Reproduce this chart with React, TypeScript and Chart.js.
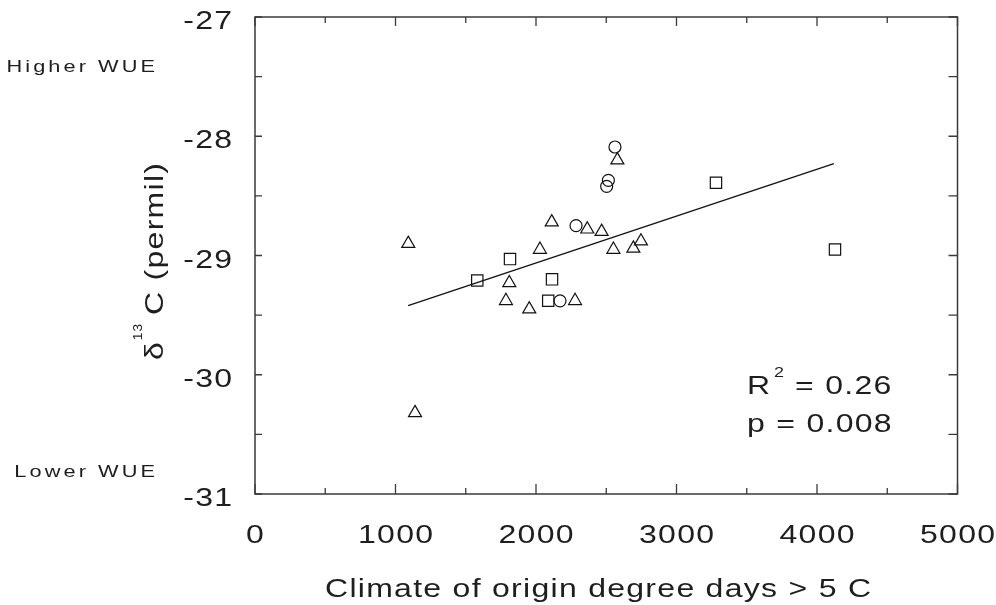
import React, { useEffect, useRef } from "react";
import { Chart, registerables } from "chart.js";

Chart.register(...registerables);

// ---- data ----
const triX = [1091, 2579, 2112, 2365, 2467, 2747, 2693, 2551, 2028, 1810, 1786, 2278, 1952, 1139];
const triY = [-28.9, -28.2, -28.72, -28.78, -28.8, -28.88, -28.94, -28.95, -28.95, -29.23, -29.38, -29.38, -29.45, -30.32];

const circX = [2562, 2515, 2503, 2285, 2171];
const circY = [-28.09, -28.37, -28.42, -28.75, -29.38];

const sqX = [3281, 1815, 1582, 2114, 2087, 4128];
const sqY = [-28.39, -29.03, -29.21, -29.2, -29.38, -28.95];

const fitX = [1090, 4120];
const fitY = [-29.42, -28.23];

const xTickValues = [0, 1000, 2000, 3000, 4000, 5000];
const xTickLabels = ["0", "1000", "2000", "3000", "4000", "5000"];
const xMinorValues = [500, 1500, 2500, 3500, 4500];
const yTickValues = [-27, -28, -29, -30, -31];
const yTickLabels = ["-27", "-28", "-29", "-30", "-31"];
const yMinorValues = [-27.5, -28.5, -29.5, -30.5];

const xTitle = "Climate of origin degree days > 5 C";
const yTitleDelta = "δ";
const yTitleSup = "13";
const yTitleRest = "C (permil)";
const highLabel = "Higher WUE";
const lowLabel = "Lower WUE";
const r2Label = "R";
const r2Sup = "2";
const r2Value = "= 0.26";
const pLabel = "p = 0.008";

const FONT = '"Liberation Sans", Arial, Helvetica, sans-serif';
const SX = 1.28;
const TEXT = "#1e1e1e";
const AXIS = "#3a3a3a";

function measure(ctx: CanvasRenderingContext2D, text: string, size: number, ls: number, sx: number) {
  ctx.save();
  ctx.font = `${size}px ${FONT}`;
  (ctx as any).letterSpacing = `${ls}px`;
  const w = ctx.measureText(text).width;
  ctx.restore();
  return (w - ls) * sx;
}

function drawText(
  ctx: CanvasRenderingContext2D,
  text: string,
  x: number,
  y: number,
  size: number,
  align: "left" | "center" | "right",
  ls = 1,
  sx = SX
) {
  const w = measure(ctx, text, size, ls, sx);
  const x0 = align === "left" ? x : align === "center" ? x - w / 2 : x - w;
  ctx.save();
  ctx.font = `${size}px ${FONT}`;
  (ctx as any).letterSpacing = `${ls}px`;
  ctx.fillStyle = TEXT;
  ctx.textAlign = "left";
  ctx.textBaseline = "alphabetic";
  ctx.translate(x0, y);
  ctx.scale(sx, 1);
  ctx.fillText(text, 0, 0);
  ctx.restore();
  return w;
}

const framePlugin = {
  id: "framePlugin",
  afterDraw(chart: any) {
    const ctx: CanvasRenderingContext2D = chart.ctx;
    const { left, right, top, bottom } = chart.chartArea;
    const xs = chart.scales.x;
    const ys = chart.scales.y;

    ctx.save();
    ctx.strokeStyle = AXIS;
    ctx.lineWidth = 1.5;
    ctx.strokeRect(left, top, right - left, bottom - top);

    ctx.lineWidth = 1.3;
    ctx.beginPath();
    xTickValues.forEach((v) => {
      const px = xs.getPixelForValue(v);
      ctx.moveTo(px, bottom);
      ctx.lineTo(px, bottom - 10);
      ctx.moveTo(px, top);
      ctx.lineTo(px, top + 9);
    });
    xMinorValues.forEach((v) => {
      const px = xs.getPixelForValue(v);
      ctx.moveTo(px, bottom);
      ctx.lineTo(px, bottom - 6);
      ctx.moveTo(px, top);
      ctx.lineTo(px, top + 6);
    });
    [...yTickValues, ...yMinorValues].forEach((v) => {
      const py = ys.getPixelForValue(v);
      ctx.moveTo(left, py);
      ctx.lineTo(left + 7, py);
      ctx.moveTo(right, py);
      ctx.lineTo(right - 9, py);
    });
    ctx.stroke();
    ctx.restore();

    // tick labels
    xTickValues.forEach((v, i) => {
      drawText(ctx, xTickLabels[i], xs.getPixelForValue(v), 543, 25, "center", 1);
    });
    yTickValues.forEach((v, i) => {
      drawText(ctx, yTickLabels[i], 232, ys.getPixelForValue(v) + 12, 25, "right", 1);
    });

    // axis titles
    drawText(ctx, xTitle, 598, 597, 25, "center", 1);

    ctx.save();
    ctx.translate(163, 360);
    ctx.rotate(-Math.PI / 2);
    const dw = drawText(ctx, yTitleDelta, 0, 0, 25, "left", 0);
    drawText(ctx, yTitleSup, dw + 2, -21, 13, "left", 1, 1.05);
    drawText(ctx, yTitleRest, 45, 0, 25, "left", 1);
    ctx.restore();

    // side annotations
    drawText(ctx, highLabel, 155, 72, 17, "right", 2.4);
    drawText(ctx, lowLabel, 155, 477, 17, "right", 2.4);

    // stats
    drawText(ctx, r2Label, 747, 394, 25, "left", 1);
    drawText(ctx, r2Sup, 774, 377, 14, "left", 1);
    drawText(ctx, r2Value, 795, 394, 25, "left", 1);
    drawText(ctx, pLabel, 747, 432, 25, "left", 1);
  },
};

function toPoints(xs: number[], ys: number[]) {
  return xs.map((x, i) => ({ x, y: ys[i] }));
}

export default function App() {
  const canvasRef = useRef<HTMLCanvasElement | null>(null);

  useEffect(() => {
    if (!canvasRef.current) return;
    const markerCommon = {
      borderColor: "#111",
      backgroundColor: "rgba(0,0,0,0)",
      borderWidth: 1.2,
      showLine: false,
    };
    const chart = new Chart(canvasRef.current, {
      type: "scatter",
      data: {
        datasets: [
          {
            label: "fit",
            type: "line",
            data: toPoints(fitX, fitY),
            borderColor: "#111",
            borderWidth: 1.3,
            pointRadius: 0,
            fill: false,
            showLine: true,
          } as any,
          {
            label: "triangles",
            data: toPoints(triX, triY),
            pointStyle: "triangle",
            pointRadius: 7.5,
            ...markerCommon,
          },
          {
            label: "circles",
            data: toPoints(circX, circY),
            pointStyle: "circle",
            pointRadius: 6,
            ...markerCommon,
          },
          {
            label: "squares",
            data: toPoints(sqX, sqY),
            pointStyle: "rect",
            pointRadius: 8,
            ...markerCommon,
          },
        ],
      },
      options: {
        animation: false,
        responsive: false,
        events: [],
        layout: { padding: { left: 255, right: 38.5, top: 17, bottom: 111 } },
        scales: {
          x: { type: "linear", min: 0, max: 5000, display: false },
          y: { type: "linear", min: -31, max: -27, display: false },
        },
        plugins: {
          legend: { display: false },
          tooltip: { enabled: false },
        },
      },
      plugins: [framePlugin],
    });
    return () => chart.destroy();
  }, []);

  return (
    <div style={{ position: "absolute", left: 0, top: 0, width: 996, height: 605, background: "#fff" }}>
      <canvas ref={canvasRef} width={996} height={605} style={{ display: "block" }} />
    </div>
  );
}
